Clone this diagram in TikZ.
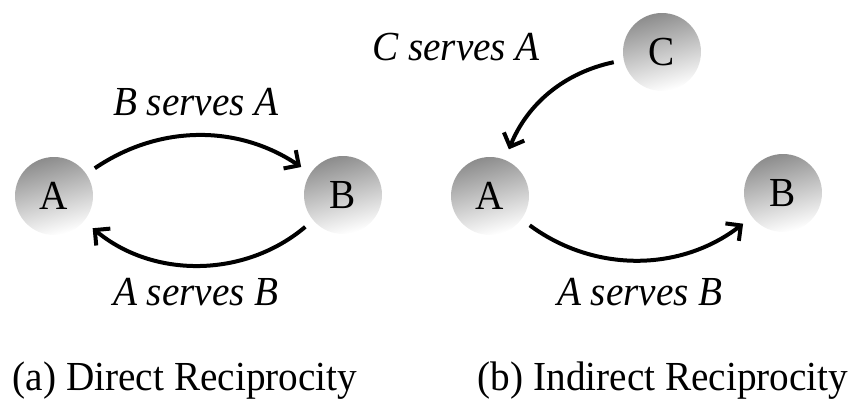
\documentclass[tikz,border=0pt]{standalone}
\usepackage{fontspec}
\setmainfont{Liberation Serif}[FakeStretch=0.95]
\usetikzlibrary{arrows.meta, positioning}

\begin{document}
\begin{tikzpicture}[
    x=0.02cm, y=-0.02cm,
    agent/.style={circle, minimum size=1.56cm, inner sep=0pt, shading=axis, top color=black!45, bottom color=white, shading angle=15, font=\fontsize{23.5}{27}\selectfont},
    label/.style={font=\fontsize{23.5}{27}\selectfont\itshape},
    caption/.style={font=\fontsize{23.5}{27}\selectfont},
    arrow/.style={-{Straight Barb[length=2.2mm, width=4.4mm]}, line width=0.08cm, shorten <=0.2cm, shorten >=0.22cm}
]
\useasboundingbox (0,0) rectangle (850,418);

% (a) direct
\node[agent] (a1) at (54,196) {A};
\node[agent] (b1) at (343,195) {B};
\node[label] (lab1) at (196,102) {B serves A};
\node[label] (lab2) at (196,292) {A serves B};
\node[caption] (cap1) at (185,381) {(a) Direct Reciprocity};

% (b) indirect
\node[agent] (c2) at (662,52) {C};
\node[agent] (a2) at (490,196) {A};
\node[agent] (b2) at (783,193) {B};
\node[label] (lab3) at (456,47) {C serves A};
\node[label] (lab4) at (640,292) {A serves B};
\node[caption] (cap2) at (663,381) {(b) Indirect Reciprocity};

% Arrows
\draw[arrow] (a1) to[bend left=34] (b1);
\draw[arrow] (b1) to[bend left=40] (a1);
\draw[arrow] (c2) to[bend right=28] (a2);
\draw[arrow] (a2) to[bend right=37] (b2);

\end{tikzpicture}
\end{document}
